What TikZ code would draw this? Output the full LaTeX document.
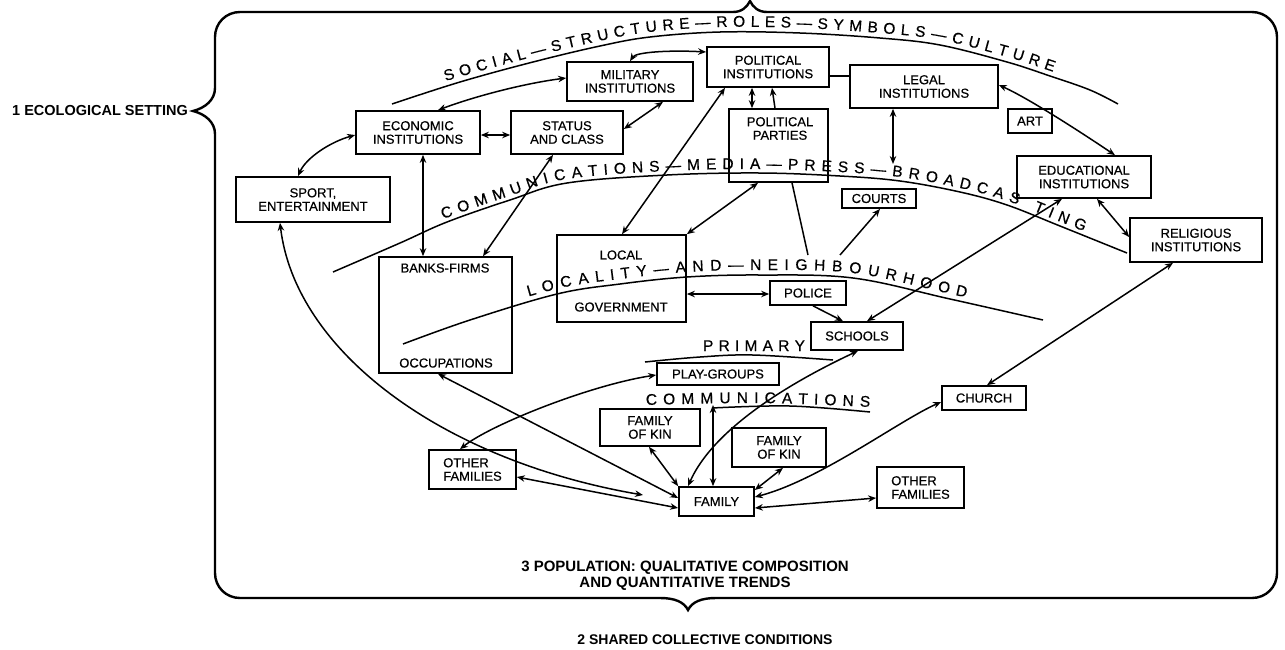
\documentclass[tikz,border=0pt]{standalone}
\usepackage{fontspec}
\setmainfont{Liberation Sans}
\newfontfamily\heavyfam{Liberation Sans}[FakeBold=0.5]
\usetikzlibrary{arrows.meta,decorations.text}
\newcommand{\boxfont}{\heavyfam\fontsize{13}{13.5}\selectfont}
\newcommand{\curvefont}{\heavyfam\fontsize{15.5}{16}\selectfont}
\tikzset{
  box/.style={draw, line width=1.7pt, inner sep=0pt, align=center, font=\boxfont},
  lbl/.style={inner sep=0pt, align=center, font=\boxfont},
  conn/.style={line width=1.5pt},
  tip/.tip={Stealth[length=8pt,width=6.5pt]},
  dbl/.style={conn, tip-tip},
  sgl/.style={conn, -tip},
  band/.style={line width=1.5pt},
  frame/.style={line width=2.4pt},
  biglbl/.style={inner sep=0pt, align=center, font=\bfseries},
}
\begin{document}
\begin{tikzpicture}[x=1pt,y=-1pt]
\useasboundingbox (0,0) rectangle (1285,649);
% frame with braces
\draw[frame] (215,134) -- (215,573) .. controls (215,587) and (226,598) .. (240,598)
  -- (660,598) .. controls (675,598) and (684,602) .. (688,610) .. controls (692,602) and (701,598) .. (716,598)
  -- (1252,598) .. controls (1266,598) and (1277,587) .. (1277,573)
  -- (1277,37) .. controls (1277,23) and (1266,12) .. (1252,12)
  -- (767,12) .. controls (758,12) and (753,7) .. (750,1) .. controls (747,7) and (742,12) .. (733,12)
  -- (240,12) .. controls (226,12) and (215,23) .. (215,37)
  -- (215,88) .. controls (215,100) and (205,108) .. (193,111) .. controls (205,114) and (215,122) .. (215,134) -- cycle;
\node[biglbl, anchor=east, font=\bfseries\fontsize{14.5}{15}\selectfont] (ecol) at (188,111) {1 ECOLOGICAL SETTING};
\node[biglbl, font=\bfseries\fontsize{15}{15.5}\selectfont] (popul) at (685,575.5) {3 POPULATION: QUALITATIVE COMPOSITION\\AND QUANTITATIVE TRENDS};
\node[biglbl, font=\bfseries\fontsize{14}{15}\selectfont] (shared) at (705,640) {2 SHARED COLLECTIVE CONDITIONS};

% curved bands
\draw[band] plot[smooth, tension=0.6] coordinates {(392,104) (460,82) (533,62) (600,46) (650,37) (720,32) (800,33) (880,38) (940,45) (1007,62) (1050,76) (1090,90) (1118,104)};
\path[decorate, decoration={text along path, raise=5pt, text align={fit to path, left indent=58pt, right indent=72pt},
  text={|\curvefont|SOCIAL—STRUCTURE—ROLES—SYMBOLS—CULTURE}}]
  plot[smooth, tension=0.6] coordinates {(392,104) (460,82) (533,62) (600,46) (650,37) (720,32) (800,33) (880,38) (940,45) (1007,62) (1050,76) (1090,90) (1118,104)};

\draw[band] plot[smooth, tension=0.6] coordinates {(333,272) (400,243) (447,222) (510,200) (567,183) (667,175) (760,173) (840,176) (900,181) (960,192) (1007,205) (1060,226) (1127,253)};
\path[decorate, decoration={text along path, raise=4pt, text align={fit to path, left indent=122pt, right indent=48pt},
  text={|\curvefont|COMMUNICATIONS—MEDIA—PRESS—BROADCAS TING}}]
  plot[smooth, tension=0.6] coordinates {(333,272) (400,243) (447,222) (510,200) (567,183) (667,175) (760,173) (840,176) (900,181) (960,192) (1007,205) (1060,226) (1127,253)};

\draw[band] plot[smooth, tension=0.6] coordinates {(403,344) (470,320) (557,294) (620,284) (687,277) (760,275) (853,278) (950,299) (1043,320)};
\path[decorate, decoration={text along path, raise=5pt, text align={fit to path, left indent=134pt, right indent=80pt},
  text={|\curvefont|LOCALITY—AND—NEIGHBOURHOOD}}]
  plot[smooth, tension=0.6] coordinates {(403,344) (470,320) (557,294) (620,284) (687,277) (760,275) (853,278) (950,299) (1043,320)};

\draw[band] plot[smooth, tension=0.6] coordinates {(645,362) (700,357) (753,355) (833,360)};
\path[decorate, decoration={text along path, text align={fit to path},
  text={|\curvefont|PRIMARY}}] (703,351) -- (805,351);

\draw[band] plot[smooth, tension=0.6] coordinates {(712,408) (790,406) (870,412)};
\path[decorate, decoration={text along path, text align={fit to path},
  text={|\curvefont|COMMUNICATIONS}}] plot[smooth, tension=0.6] coordinates {(646,405) (760,403) (870,407)};

% boxes
\node[box, minimum width=124pt, minimum height=43pt] (econ) at (418,132.5) {ECONOMIC\\INSTITUTIONS};
\node[box, minimum width=112pt, minimum height=43pt] (status) at (567,132.5) {STATUS\\AND CLASS};
\node[box, minimum width=126pt, minimum height=39pt] (military) at (630,81.5) {MILITARY\\INSTITUTIONS};
\node[box, minimum width=122pt, minimum height=40pt] (political) at (768,67) {POLITICAL\\INSTITUTIONS};
\node[box, minimum width=148pt, minimum height=43pt] (legal) at (924,86.5) {LEGAL\\INSTITUTIONS};
\node[box, minimum width=99pt, minimum height=73pt] (parties) at (778.5,145.5) {};
\node[lbl] (partiestxt) at (780,128.5) {POLITICAL\\PARTIES};
\node[box, minimum width=44pt, minimum height=24pt] (art) at (1030,121) {ART};
\node[box, minimum width=74pt, minimum height=19pt] (courts) at (879,198.5) {COURTS};
\node[box, minimum width=134pt, minimum height=42pt] (educ) at (1084,177) {EDUCATIONAL\\INSTITUTIONS};
\node[box, minimum width=132pt, minimum height=44pt] (relig) at (1196,240) {RELIGIOUS\\INSTITUTIONS};
\node[box, minimum width=154pt, minimum height=45pt] (sport) at (313,199.5) {SPORT,\\ENTERTAINMENT};
\node[box, minimum width=133pt, minimum height=116pt] (banks) at (445.5,315) {};
\node[lbl] (bankstxt) at (445,268) {BANKS-FIRMS};
\node[lbl] (occtxt) at (446,363) {OCCUPATIONS};
\node[box, minimum width=129pt, minimum height=87pt] (local) at (621.5,278.5) {};
\node[lbl] (localtxt) at (621,255) {LOCAL};
\node[lbl] (govtxt) at (621,307) {GOVERNMENT};
\node[box, minimum width=76pt, minimum height=24pt] (police) at (808,293) {POLICE};
\node[box, minimum width=92pt, minimum height=28pt] (schools) at (857,336) {SCHOOLS};
\node[box, minimum width=122pt, minimum height=22pt] (play) at (718,374) {PLAY-GROUPS};
\node[box, minimum width=84pt, minimum height=24pt] (church) at (984,398) {CHURCH};
\node[box, minimum width=100pt, minimum height=37pt] (kinL) at (650,427.5) {FAMILY\\OF KIN};
\node[box, minimum width=94pt, minimum height=39pt] (kinR) at (779,447.5) {FAMILY\\OF KIN};
\node[box, minimum width=75pt, minimum height=29pt] (family) at (716.5,501.5) {FAMILY};
\node[box, align=left, minimum width=87pt, minimum height=39pt] (othL) at (472.5,469.5) {OTHER\\FAMILIES};
\node[box, align=left, minimum width=87pt, minimum height=41pt] (othR) at (920.5,487.5) {OTHER\\FAMILIES};

% connectors
\draw[dbl] (sport.north -| 298,0) .. controls (306,158) and (330,142) .. (econ.west |- 0,135);
\draw[dbl] (econ.north -| 438,0) .. controls (470,98) and (520,84) .. (military.west |- 0,78);
\draw[dbl] (econ.east |- 0,135) -- (status.west |- 0,135);
\draw[dbl] (military.south -| 663,0) -- (status.east |- 0,129);
\draw[dbl] (status.south -| 553,0) -- (banks.north -| 483,0);
\draw[dbl] (econ.south -| 423,0) -- (banks.north -| 423,0);
\draw[dbl] (military.north -| 630,0) .. controls (636,52) and (670,50) .. (political.west |- 0,52);
\draw[conn] (political.east |- 0,76) -- (legal.west |- 0,76);
\draw[dbl] (political.south -| 752,0) -- (parties.north -| 752,0);
\draw[sgl] (parties.north -| 775,0) -- (political.south -| 772,0);
\draw[dbl] (political.south -| 725,0) -- (local.north -| 622,0);
\draw[dbl] (parties.south -| 758,0) -- (local.north east);
\coordinate (ppend) at (808,255);
\draw[conn] (parties.south -| 792,0) -- (ppend);
\coordinate (crtend) at (840,255);
\draw[sgl] (crtend) -- (courts.south -| 880,0);
\coordinate (legend) at (893,164);
\draw[dbl] (legal.south -| 893,0) -- (legend);
\draw[dbl] (legal.east |- 0,85) .. controls (1030,99) and (1085,135) .. (educ.north -| 1115,0);
\draw[dbl] (educ.south -| 1097,0) -- (relig.west |- 0,237);
\draw[dbl] (educ.south -| 1062,0) -- (schools.north -| 867,0);
\draw[dbl] (church.north -| 987,0) -- (relig.south -| 1173,0);
\draw[sgl] (police.south -| 813,0) -- (schools.north -| 843,0);
\draw[dbl] (local.east |- 0,294) -- (police.west |- 0,294);
\draw[dbl] (schools.south -| 858,0) .. controls (800,378) and (715,425) .. (family.north -| 688,0);
\coordinate (famup) at (713,405);
\draw[dbl] (family.north -| 713,0) -- (famup);
\draw[dbl] (kinL.south -| 649,0) -- (family.north west);
\draw[dbl] (kinR.south -| 783,0) -- (family.east |- 0,490);
\draw[dbl] (family.east |- 0,497) .. controls (820,480) and (900,420) .. (church.west |- 0,402);
\draw[dbl] (family.east |- 0,508) -- (othR.west |- 0,498);
\draw[dbl] (othL.east |- 0,477) -- (family.west |- 0,508);
\draw[dbl] (banks.south -| 438,0) -- (family.west |- 0,498);
\coordinate (sportend) at (643,495);
\draw[dbl] (sport.south -| 280,0) .. controls (295,350) and (440,460) .. (sportend);
\draw[dbl] (othL.north -| 460,0) .. controls (490,425) and (590,385) .. (play.west |- 0,375);
\end{tikzpicture}
\end{document}
